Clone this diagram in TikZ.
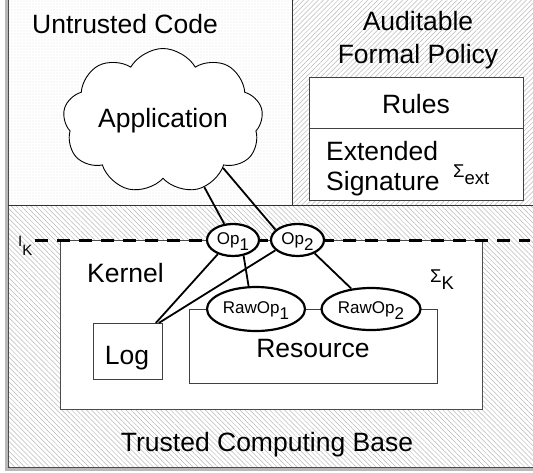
\documentclass[tikz,border=0pt]{standalone}
\usepackage{fontspec}
\setmainfont{Liberation Sans}
\usetikzlibrary{shapes.geometric,shapes.symbols,patterns.meta}
\newcommand{\lowr}[1]{\raisebox{-0.38em}[0pt][0pt]{#1}}
\begin{document}
\begin{tikzpicture}[x=1pt,y=-1pt,
  big/.style={font=\fontsize{26.5}{30}\selectfont, inner sep=0},
  small/.style={font=\fontsize{18.5}{21}\selectfont, inner sep=0},
  opnode/.style={ellipse, draw, line width=2.2pt, fill=white, inner sep=0, font=\fontsize{17}{20}\selectfont},
  box/.style={draw=black!75, line width=0.8pt, fill=white, inner sep=0},
  conn/.style={line width=1.8pt}]
\useasboundingbox (0,0) rectangle (533,472);
\begin{scope}
\clip (0,0) rectangle (533,472);
\fill[gray!55] (5,-5) rectangle (540,471);
\fill[white] (8,-5) rectangle (540,467);
\fill[pattern={Dots[distance=3pt,radius=0.45pt]}, pattern color=gray!50] (8,-5) rectangle (292,205);
\fill[pattern={Lines[angle=45,distance=3.5pt,line width=0.5pt]}, pattern color=gray!55] (292,-5) rectangle (540,205);
\fill[pattern={Lines[angle=-45,distance=3.5pt,line width=0.5pt]}, pattern color=gray!55] (8,205) rectangle (540,467);
\draw[black!70, line width=0.8pt] (8,-5) -- (8,467) -- (540,467);
\draw[black!80, line width=0.8pt] (8,205) -- (540,205);
\draw[black!80, line width=0.8pt] (292,-5) -- (292,205);
\end{scope}
% top texts
\node[big, anchor=base west] (untrusted) at (32,33) {Untrusted Code};
\node[big, anchor=base] (aud) at (418,30) {Auditable};
\node[big, anchor=base] (formal) at (418,63) {Formal Policy};
% policy box
\node[box, minimum width=214pt, minimum height=51pt, anchor=north west] (rulesbox) at (309,77) {};
\node[big, anchor=base] (rules) at (416,113) {Rules};
\node[box, minimum width=214pt, minimum height=72pt, anchor=north west] (sigbox) at (309,128) {};
\node[big, anchor=base west, align=left] (extsig) at (326,190) {Extended\\Signature};
\node[small, anchor=base west] (sigext) at (453,177) {Σ\lowr{ext}};
% cloud
\node[cloud, draw, fill=white, line width=0.9pt, cloud puffs=9, cloud puff arc=120, cloud ignores aspect,
      minimum width=200pt, minimum height=145pt, big] (app) at (163,121) {Application};
% kernel
\node[draw=black!70, line width=0.8pt, fill=white, minimum width=422pt, minimum height=169pt,
      anchor=north west, inner sep=0] (kernel) at (60,240) {};
\node[big, anchor=base west] (kernellbl) at (87,282) {Kernel};
\node[small, anchor=base west] (sigk) at (430,282) {Σ\lowr{K}};
\node[box, minimum width=69pt, minimum height=56pt, anchor=north west] (log) at (93,323) {};
\node[big, anchor=base] (loglbl) at (127,364) {Log};
\node[box, minimum width=248pt, minimum height=74pt, anchor=north west] (res) at (189,309) {};
\node[big, anchor=base] (reslbl) at (313,357) {Resource};
% interface line
\coordinate (ikl) at (35,240);
\coordinate (ikr) at (530,240);
\draw[line width=3pt, dash pattern=on 13pt off 9pt] (ikl) -- (ikr);
\node[font=\fontsize{15}{17}\selectfont, anchor=base west, inner sep=0] (ik) at (18,246) {I\raisebox{-9pt}{K}};
% ops
\node[opnode, minimum width=52pt, minimum height=32pt] (op1) at (233,240) {Op\lowr{1}};
\node[opnode, minimum width=53pt, minimum height=32pt] (op2) at (297.5,240) {Op\lowr{2}};
\node[opnode, minimum width=98pt, minimum height=44pt] (raw1) at (256,309) {RawOp\lowr{1}};
\node[opnode, minimum width=99pt, minimum height=42pt] (raw2) at (371,309) {RawOp\lowr{2}};
% connectors
\draw[conn] (app.-58) -- (op1);
\draw[conn] (app.-38) -- (op2.155);
\draw[conn] (op1.-137) -- ([xshift=-7pt]log.north east);
\draw[conn] (op2.-155) -- ([xshift=-4pt]log.north east);
\draw[conn] (op1.-56) -- (raw1.108);
\draw[conn] (op2.-38) -- (raw2.134);
\node[big, anchor=base] (tcb) at (267,451) {Trusted Computing Base};
\end{tikzpicture}
\end{document}
